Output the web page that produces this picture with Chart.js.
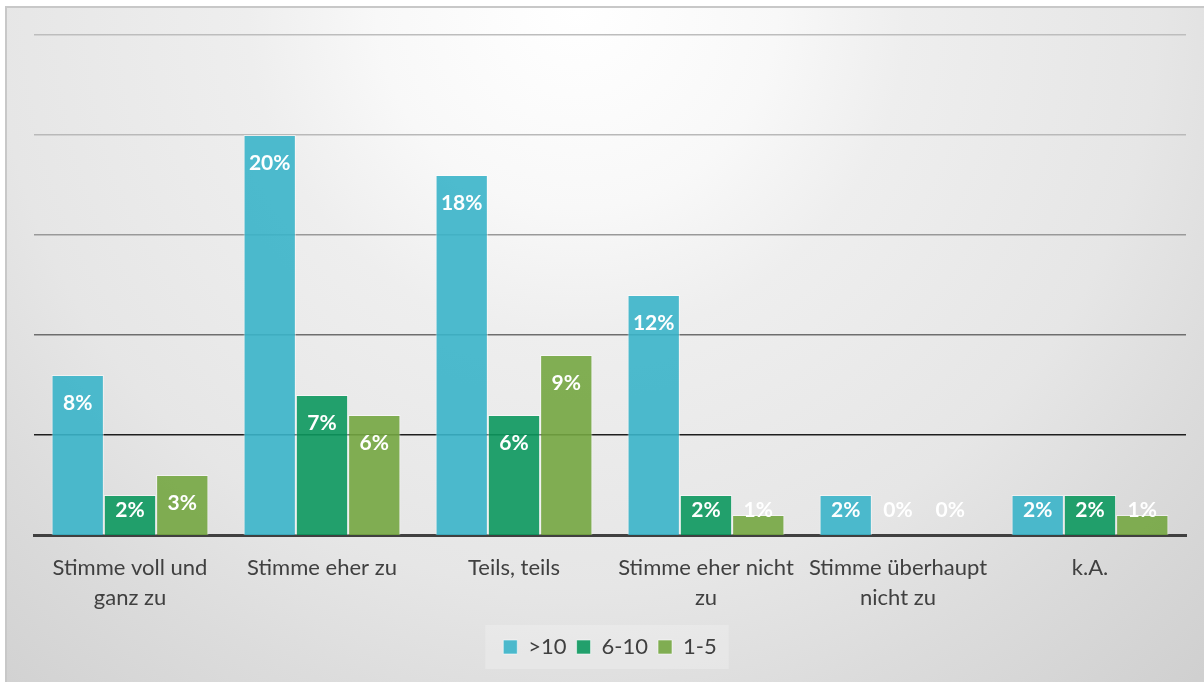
<!DOCTYPE html>
<html lang="de">
<head>
<meta charset="utf-8">
<title>Umfrage</title>
<script src="https://cdn.jsdelivr.net/npm/chart.js@4.4.1/dist/chart.umd.min.js"></script>
<style>
    html, body { margin: 0; padding: 0; background: #fff; }
    #wrap { position: relative; width: 1204px; height: 682px; overflow: hidden; }
    #frame {
        position: absolute; left: 5px; top: 6px; width: 1220px; height: 700px;
        border: 2px solid #c8c8c8; box-sizing: border-box;
        background: radial-gradient(circle farthest-corner at 570px 0px,
            #ffffff 0px, #f8f8f8 200px, #eeeeee 330px, #e6e6e6 580px, #dcdcdc 720px, #cfcfcf 930px);
    }
    canvas { position: absolute; left: 0; top: 0; }
</style>
</head>
<body>
<div id="wrap">
    <div id="frame"></div>
    <canvas id="chart" width="1204" height="682"></canvas>
</div>
<script>
const categories = [
    ['Stimme voll und', 'ganz zu'],
    ['Stimme eher zu'],
    ['Teils, teils'],
    ['Stimme eher nicht', 'zu'],
    ['Stimme überhaupt', 'nicht zu'],
    ['k.A.'],
];
const seriesNames = ['>10', '6-10', '1-5'];
const over10 = [8, 20, 18, 12, 2, 2];
const from6to10 = [2, 7, 6, 2, 0, 2];
const from1to5 = [3, 6, 9, 1, 0, 1];
const yTicks = [0, 5, 10, 15, 20, 25];

const seriesColors = ['rgba(58,180,201,0.9)', 'rgba(12,152,94,0.9)', 'rgba(116,166,65,0.9)'];
const gridShades = ['#404040', '#1e1e1e', '#6e6e6e', '#999999', '#b9b9b9', '#bdbdbd'];

Chart.defaults.font.family = 'Lato, "Open Sans", sans-serif';

// white percentage labels inside the top of each bar, pushed down to the base for short bars
const barLabels = {
    id: 'barLabels',
    afterDatasetsDraw(chart) {
        const { ctx } = chart;
        const base = chart.scales.y.getPixelForValue(0);
        ctx.save();
        ctx.font = 'bold 21px Lato';
        ctx.fillStyle = '#ffffff';
        ctx.textAlign = 'center';
        ctx.textBaseline = 'middle';
        chart.data.datasets.forEach((dataset, i) => {
            chart.getDatasetMeta(i).data.forEach((bar, j) => {
                const y = Math.min(bar.y + 28, base - 25);
                ctx.fillText(`${dataset.data[j]}%`, bar.x, y);
            });
        });
        ctx.restore();
    },
};

// light panel behind the legend row
const legendPanel = {
    id: 'legendPanel',
    beforeDraw(chart) {
        const boxes = chart.legend?.legendHitBoxes;
        if (!boxes || boxes.length === 0) {
            return;
        }
        const left = Math.min(...boxes.map((b) => b.left));
        const right = Math.max(...boxes.map((b) => b.left + b.width));
        const mid = boxes[0].top + boxes[0].height / 2;
        const { ctx } = chart;
        ctx.save();
        ctx.fillStyle = 'rgba(255,255,255,0.22)';
        ctx.fillRect(left - 18, mid - 22, right - left + 30, 44);
        ctx.restore();
    },
};

const seriesValues = [over10, from6to10, from1to5];

new Chart(document.getElementById('chart'), {
    type: 'bar',
    data: {
        labels: categories,
        datasets: seriesNames.map((name, i) => ({
            label: name,
            data: seriesValues[i],
            backgroundColor: seriesColors[i],
            borderColor: 'rgba(255,255,255,0.55)',
            borderWidth: 1,
            barPercentage: 1,
            categoryPercentage: 0.817,
        })),
    },
    options: {
        responsive: false,
        animation: false,
        layout: {
            padding: { left: 34, right: 18, top: 35, bottom: 14 },
        },
        plugins: {
            tooltip: { enabled: false },
            legend: {
                position: 'bottom',
                labels: {
                    color: '#404040',
                    font: { size: 22 },
                    boxWidth: 14,
                    boxHeight: 14,
                    padding: 10,
                },
            },
        },
        scales: {
            x: {
                grid: { display: false },
                border: { color: '#404040', width: 3 },
                ticks: {
                    color: '#404040',
                    font: { size: 22, lineHeight: 1.36 },
                    maxRotation: 0,
                    autoSkip: false,
                    padding: 10,
                },
                afterFit(scale) {
                    scale.height = 91;
                },
            },
            y: {
                min: 0,
                max: 25,
                afterBuildTicks(scale) {
                    scale.ticks = yTicks.map((value) => ({ value }));
                },
                ticks: { display: false },
                border: { display: false },
                grid: {
                    drawTicks: false,
                    color: (c) => gridShades[c.index] ?? '#bdbdbd',
                    lineWidth: (c) => (c.index === 0 ? 0 : 1.5),
                },
            },
        },
    },
    plugins: [barLabels, legendPanel],
});
</script>
</body>
</html>
